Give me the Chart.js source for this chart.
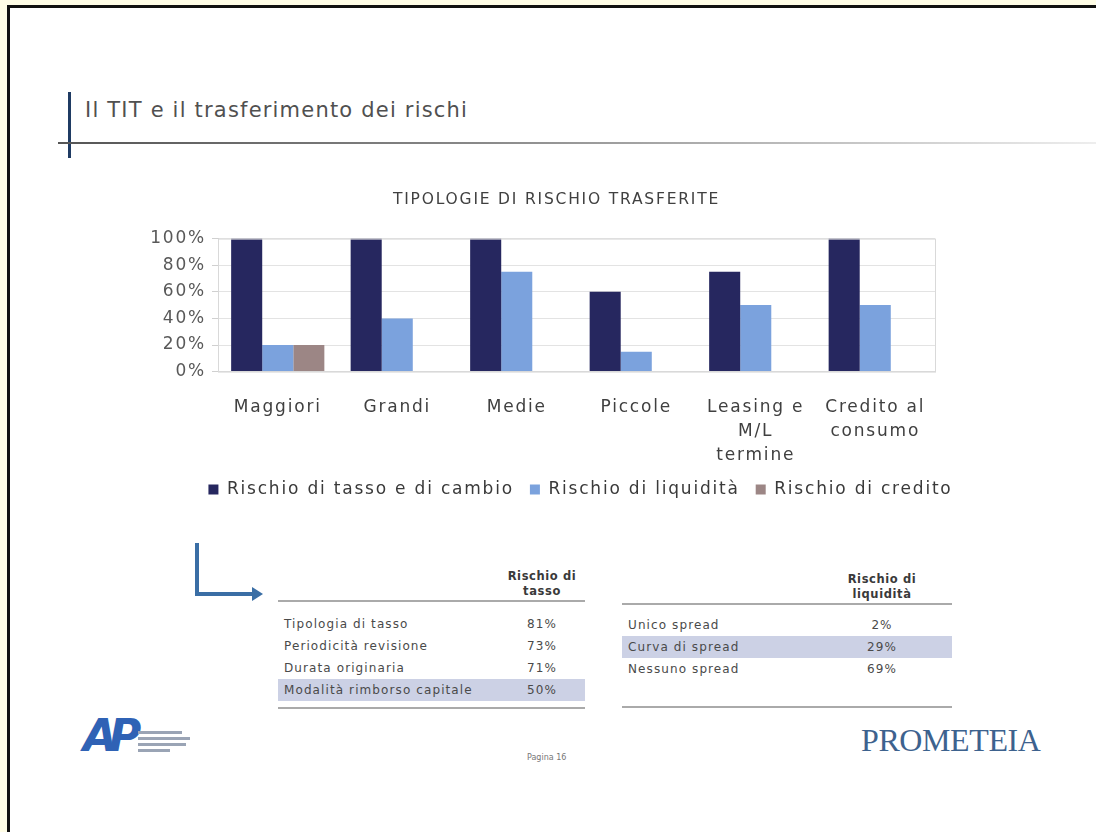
<!DOCTYPE html>
<html>
<head>
<meta charset="utf-8">
<script src="https://cdn.jsdelivr.net/npm/chart.js@4"></script>
<style>
  html, body { margin: 0; padding: 0; }
  body { width: 1096px; height: 832px; background: #fffde6; position: relative; overflow: hidden;
         font-family: "DejaVu Sans", Verdana, sans-serif; color: #555; }
  .slide { position: absolute; left: 7px; top: 5px; width: 1100px; height: 840px; background: #fff;
           border-left: 3px solid #111; border-top: 3px solid #111; }
  .abs { position: absolute; }
  .hdr { left: 85px; top: 98px; font-size: 21px; letter-spacing: 1.2px; color: #505050; white-space: nowrap; }
  .vbar { left: 68px; top: 92px; width: 3px; height: 66px; background: #1f3b63; }
  .hline { left: 58px; top: 142px; width: 1040px; height: 2px;
           background: linear-gradient(to right, #555 0%, #888 40%, #ccc 80%, #eee 100%); }
  #wrap { position: absolute; left: 130px; top: 180px; width: 830px; height: 328px; }
  .arrow-v { left: 195px; top: 543px; width: 4px; height: 53px; background: #3a6ea5; }
  .arrow-h { left: 195px; top: 592px; width: 58px; height: 4px; background: #3a6ea5; }
  .arrow-head { left: 252px; top: 587px; width: 0; height: 0; border-top: 7px solid transparent;
                border-bottom: 7px solid transparent; border-left: 11px solid #3a6ea5; }
  table { position: absolute; border-collapse: collapse; font-size: 12px; letter-spacing: 1.1px; color: #4a4a4a; }
  th { font-weight: bold; font-size: 11.5px; letter-spacing: 0.6px; line-height: 15px; color: #3a3a3a; text-align: center;
       border-bottom: 2px solid #aaa; padding: 0 0 1px 0; }
  td { height: 22px; padding: 0 0 0 6px; white-space: nowrap; }
  td.v { text-align: center; padding: 0; }
  tr.hi td { background: #ccd1e5; }
  tr.sp td { padding: 0; }
  tr.end td { border-bottom: 2px solid #aaa; }
  .pag { left: 527px; top: 753px; font-size: 8px; color: #777; }
  .brand { left: 861px; top: 722px; font-family: "Liberation Serif", serif; font-size: 32px;
           color: #3d628e; letter-spacing: -0.4px; }
  .logo { left: 83px; top: 714px; font-family: "DejaVu Sans", sans-serif; font-weight: bold;
          font-style: italic; font-size: 44px; color: #2f62b5; line-height: 44px; letter-spacing: -8px; }
  .blur { height: 3px; background: #9aa4b5; filter: blur(0.6px); }
</style>
</head>
<body>
<div class="slide"></div>
<div class="abs vbar"></div>
<div class="abs hline"></div>
<div class="abs hdr">Il TIT e il trasferimento dei rischi</div>

<div id="wrap"><canvas id="chart"></canvas></div>

<div class="abs arrow-v"></div>
<div class="abs arrow-h"></div>
<div class="abs arrow-head"></div>

<table id="t1" style="left:278px; top:569px; width:307px;"></table>
<table id="t2" style="left:622px; top:572px; width:330px;"></table>

<div class="abs logo">AP</div>
<div class="abs blur" style="left:138px; top:731px; width:44px;"></div>
<div class="abs blur" style="left:138px; top:737px; width:52px;"></div>
<div class="abs blur" style="left:138px; top:743px; width:48px;"></div>
<div class="abs blur" style="left:138px; top:749px; width:32px;"></div>
<div class="abs pag">Pagina 16</div>
<div class="abs brand">PROMETEIA</div>

<script>
// ---- dati del grafico ----
const categories = [["Maggiori"], ["Grandi"], ["Medie"], ["Piccole"], ["Leasing e", "M/L", "termine"], ["Credito al", "consumo"]];
const tassoCambio = [100, 100, 100, 60, 75, 100];
const liquidita   = [20, 40, 75, 15, 50, 50];
const credito     = [20, null, null, null, null, null];
const yTicks = [0, 20, 40, 60, 80, 100];

// ---- dati delle tabelle ----
const tassoRows = ["Tipologia di tasso", "Periodicità revisione", "Durata originaria", "Modalità rimborso capitale"];
const tassoVals = ["81%", "73%", "71%", "50%"];
const liqRows = ["Unico spread", "Curva di spread", "Nessuno spread"];
const liqVals = ["2%", "29%", "69%"];

const FONT = "'DejaVu Sans', Verdana, sans-serif";

/** testo più largo, come nella slide originale */
const spacing = {
    id: 'spacing',
    beforeLayout(chart) { chart.ctx.letterSpacing = '1.8px'; },
    beforeDraw(chart) { chart.ctx.letterSpacing = '1.8px'; }
};

/** titolo e legenda un po' a destra (centrati come nella slide) */
const shiftBoxes = {
    id: 'shiftBoxes',
    afterLayout(chart) {
        const move = (box, dx) => { if (box) { box.left += dx; box.right += dx; } };
        move(chart.titleBlock, 24);
        move(chart.legend, 48);
    }
};

/** bordo dell'area del grafico */
const plotBorder = {
    id: 'plotBorder',
    afterDraw(chart) {
        const { ctx, chartArea: a } = chart;
        ctx.save();
        ctx.strokeStyle = '#d9d9d9';
        ctx.lineWidth = 1;
        ctx.strokeRect(a.left + 0.5, a.top + 0.5, a.right - a.left, a.bottom - a.top);
        ctx.restore();
    }
};

new Chart(document.getElementById('chart'), {
    type: 'bar',
    data: {
        labels: categories,
        datasets: [
            { label: 'Rischio di tasso e di cambio', data: tassoCambio, backgroundColor: '#26275f' },
            { label: 'Rischio di liquidità', data: liquidita, backgroundColor: '#7ba2dd' },
            { label: 'Rischio di credito', data: credito, backgroundColor: '#9c8685' }
        ]
    },
    options: {
        responsive: true,
        maintainAspectRatio: false,
        animation: false,
        layout: { padding: { left: 0, right: 25, top: 0, bottom: 0 } },
        datasets: { bar: { barPercentage: 1, categoryPercentage: 0.78 } },
        plugins: {
            title: {
                display: true,
                text: 'TIPOLOGIE DI RISCHIO TRASFERITE',
                color: '#404040',
                font: { family: FONT, size: 15.5, weight: 'normal' },
                padding: { top: 11, bottom: 29 }
            },
            legend: {
                position: 'bottom',
                labels: {
                    color: '#3a3a3a',
                    font: { family: FONT, size: 17 },
                    boxWidth: 10, boxHeight: 10, padding: 16
                }
            },
            tooltip: { enabled: false }
        },
        scales: {
            x: {
                afterFit(scale) { scale.height -= 18; },
                grid: { display: false },
                border: { color: '#d9d9d9' },
                ticks: { color: '#404040', font: { family: FONT, size: 17, lineHeight: 1.4 }, padding: 16, maxRotation: 0 }
            },
            y: {
                min: 0, max: 100,
                afterFit(scale) { scale.width = 88; },
                afterBuildTicks(scale) { scale.ticks = yTicks.map(v => ({ value: v })); },
                grid: { color: '#e3e3e3', tickLength: 6, tickColor: '#d0d0d0' },
                border: { color: '#d0d0d0' },
                ticks: { color: '#595959', font: { family: FONT, size: 17 }, padding: 6, autoSkip: false, callback: v => v + '%' }
            }
        }
    },
    plugins: [spacing, shiftBoxes, plotBorder]
});

/** costruzione tabelle */
function buildTable(id, head, rows, vals, hiIndex, labelW, padTop, padEnd) {
    const t = document.getElementById(id);
    let html = `<tr><th style="width:${labelW}px"></th><th>${head}</th></tr>`;
    html += `<tr class="sp"><td colspan="2" style="height:${padTop}px"></td></tr>`;
    rows.forEach((r, i) => {
        html += `<tr class="${i === hiIndex ? 'hi' : ''}"><td>${r}</td><td class="v">${vals[i]}</td></tr>`;
    });
    html += `<tr class="sp end"><td colspan="2" style="height:${padEnd}px"></td></tr>`;
    t.innerHTML = html;
}
buildTable('t1', 'Rischio di<br>tasso', tassoRows, tassoVals, 3, 221, 11, 6);
buildTable('t2', 'Rischio di<br>liquidità', liqRows, liqVals, 1, 190, 9, 26);
</script>
</body>
</html>
